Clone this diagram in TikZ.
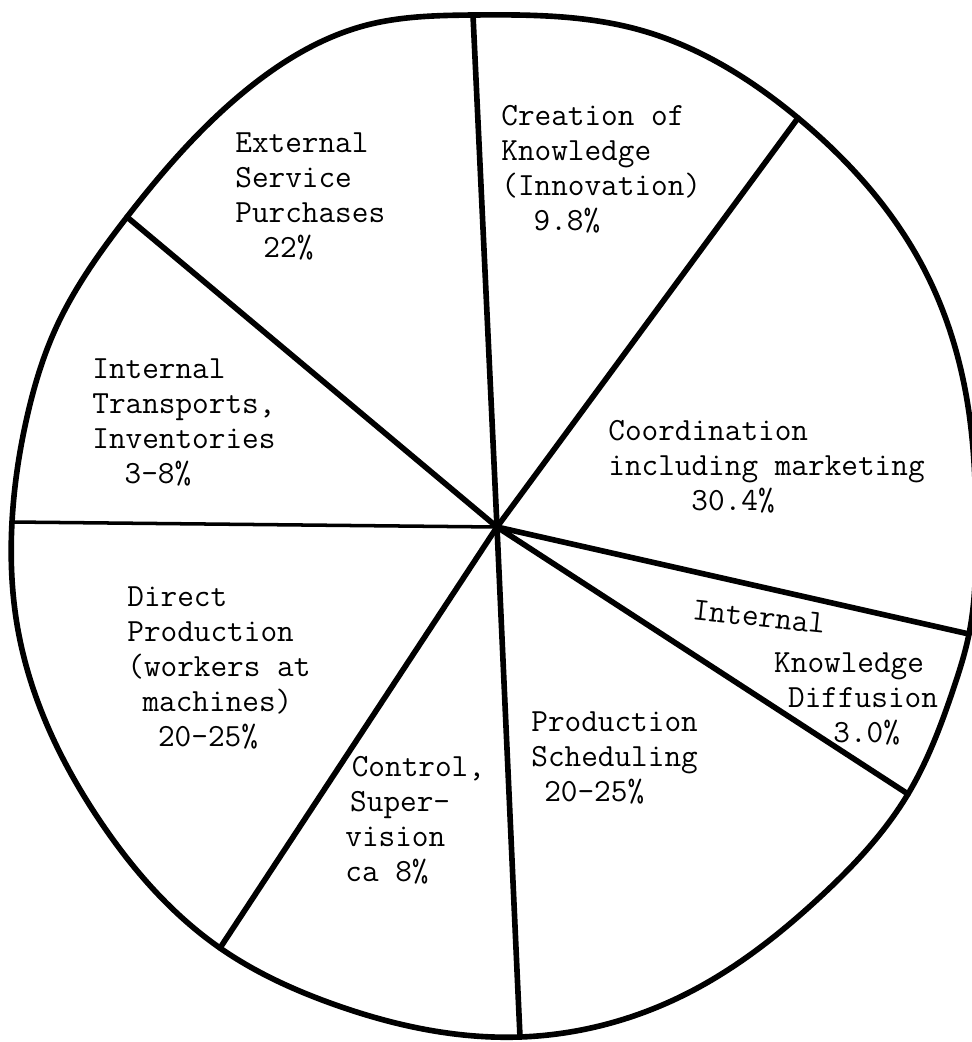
\documentclass[tikz,border=0pt]{standalone}
\usepackage{fontspec}
\usepackage{tikz}
\usetikzlibrary{hobby}

\tikzset{
  rim/.style={line width=3.2pt, line join=round},
  spoke/.style={line width=3.2pt, line cap=round},
  lbl/.style={anchor=north west, inner sep=0pt, align=left,
    font=\ttfamily\fontsize{18.4}{19.9}\selectfont},
}

\begin{document}
\begin{tikzpicture}[x=0.02cm, y=-0.02cm]
\useasboundingbox (0,0) rectangle (972,1042);
\clip (0,0) rectangle (972,1042);
% centre and ends of the spokes on the rim
\coordinate (c) at (497,527);
\coordinate (s1) at (473,15);
\coordinate (s2) at (798,118);
\coordinate (s3) at (969,634);
\coordinate (s4) at (908,794);
\coordinate (s5) at (520,1037);
\coordinate (s6) at (220,948);
\coordinate (s7) at (12,522);
\coordinate (s8) at (127,217);
% rim, drawn by hand
\draw[rim, use Hobby shortcut, closed=true] (s1) .. (640,30) .. (s2)
  .. (923,267) .. (967,400) .. (976,540) .. (s3) .. (953,690) .. (s4)
  .. (819,898) .. (686,994) .. (s5) .. (333,1004) .. (s6) .. (100,821)
  .. (18,630) .. (s7) .. (27,417) .. (55,330) .. (s8) .. (250,87)
  .. (367,25);
% spokes
\foreach \s in {s1,s2,s3,s4,s5,s6,s8}{
\draw[spoke] (c) -- (\s);
}
\draw[spoke, line width=2pt] (c) -- (s7);
% labels
\node[lbl] (crk) at (501,100.5) {\strut Creation of\\Knowledge\\(Innovation)\\\hspace*{1em}9.8\%};
\node[lbl] (coo) at (608,415.5) {\strut Coordination\\including marketing\\\hspace*{2.57em}30.4\%};
\node[lbl, rotate=-6] (ikdtop) at (694,595) {\strut Internal};
\node[lbl] (ikd) at (694,648) {\strut\hspace*{2.47em}Knowledge\\\hspace*{2.9em}Diffusion\\\hspace*{4.3em}3.0\%};
\node[lbl] (prs) at (531,706.5) {\strut Production\\Scheduling\\\hspace*{0.4em}20-25\%};
\node[lbl] (ctl) at (345,751.5) {\strut\hspace*{0.2em}Control,\\\hspace*{0.15em}Super-\\vision\\ca 8\%};
\node[lbl] (dir) at (127,581.5) {\strut Direct\\Production\\(workers at\\\hspace*{0.47em}machines)\\\hspace*{0.95em}20-25\%};
\node[lbl] (itr) at (92,353.5) {\strut Internal\\Transports,\\Inventories\\\hspace*{1em}3-8\%};
\node[lbl] (ext) at (235,127.5) {\strut External\\Service\\Purchases\\\hspace*{0.87em}22\%};
\end{tikzpicture}
\end{document}
